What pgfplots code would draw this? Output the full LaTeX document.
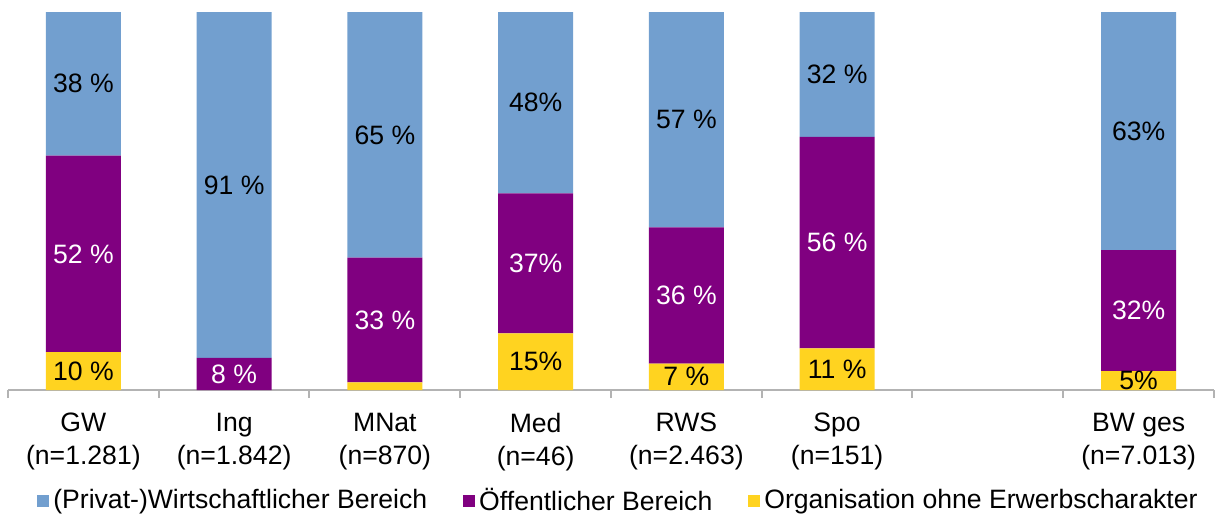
\documentclass[border=0pt]{standalone}
\usepackage{fontspec}
\setmainfont{Liberation Sans}
\usepackage{pgfplots}
\usepackage{pgfplotstable}
\pgfplotsset{compat=1.18}
\definecolor{cblue}{HTML}{729FCF}
\definecolor{cpurple}{HTML}{800080}
\definecolor{cyellow}{HTML}{FFD320}
\definecolor{caxis}{HTML}{B3B3B3}

\pgfplotstableread{
x y lab
0 10 {10 \%}
1 0 {}
2 2 {}
3 15 {15\%}
4 7 {7 \%}
5 11 {11 \%}
7 5 {5\%}
}\org
\pgfplotstableread{
x y lab
0 52 {52 \%}
1 8.5 {8 \%}
2 33 {33 \%}
3 37 {37\%}
4 36 {36 \%}
5 56 {56 \%}
7 32 {32\%}
}\oeff
\pgfplotstableread{
x y lab
0 38 {38 \%}
1 91.5 {91 \%}
2 65 {65 \%}
3 48 {48\%}
4 57 {57 \%}
5 33 {32 \%}
7 63 {63\%}
}\priv

\newcommand{\lf}{\fontsize{13.3}{16.6}\selectfont}

\begin{document}
\begin{tikzpicture}
\begin{axis}[
  at={(0,0)}, anchor=south west,
  scale only axis, width=603pt, height=195pt,
  xmin=-0.5, xmax=7.5, ymin=0, ymax=103.1746,
  ybar stacked, bar width=37.5pt,
  axis x line=bottom, axis y line=none,
  axis line style={-, draw=caxis, line width=1pt},
  xtick={-0.5,0.5,...,7.5},
  x tick label as interval,
  xticklabels={{GW\\(n=1.281)},{Ing\\(n=1.842)},{MNat\\(n=870)},{Med\\(n=46)},{RWS\\(n=2.463)},{Spo\\(n=151)},{},{BW ges\\(n=7.013)}},
  xticklabel style={align=center, font=\lf, text=black, yshift=-4pt},
  tick align=outside, major tick length=4pt,
  xtick style={draw=caxis, line width=1pt},
  ytick=\empty,
  legend style={draw=none, fill=none, at={(0.507,-0.284)}, anchor=center,
    font=\lf, /tikz/every even column/.append style={column sep=16pt}},
  legend columns=3,
  reverse legend,
  legend image code/.code={\fill[#1] (0pt,-3pt) rectangle (6pt,3pt);},
  point meta=explicit symbolic,
  nodes near coords,
]
\addplot[fill=cyellow, draw=none,
  every node near coord/.style={font=\lf, anchor=center, text=black}]
  table[x=x,y=y,meta=lab]{\org};
\addlegendentry{Organisation ohne Erwerbscharakter}
\addplot[fill=cpurple, draw=none,
  every node near coord/.style={font=\lf, anchor=center, text=white}]
  table[x=x,y=y,meta=lab]{\oeff};
\addlegendentry{Öffentlicher Bereich}
\addplot[fill=cblue, draw=none,
  every node near coord/.style={font=\lf, anchor=center, text=black}]
  table[x=x,y=y,meta=lab]{\priv};
\addlegendentry{(Privat-)Wirtschaftlicher Bereich}
\end{axis}
\pgfresetboundingbox
\path (-4pt,-63pt) rectangle (603.5pt,195pt);
\end{tikzpicture}
\end{document}
